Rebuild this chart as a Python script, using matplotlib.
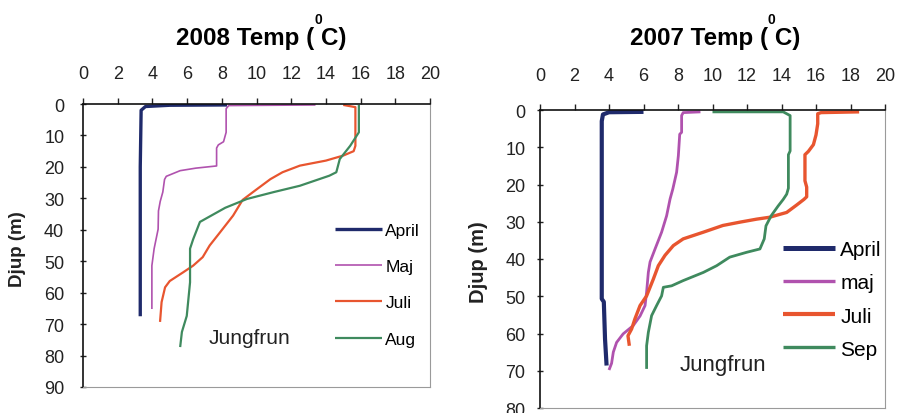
import numpy as np
import matplotlib.pyplot as plt

plt.rcParams['font.family'] = ['Liberation Sans', 'DejaVu Sans']

W, H = 898, 414

# 2008 profiles (temperature degC, depth m)
apr08_t = [8.3, 5.0, 3.6, 3.35, 3.3, 3.3]
apr08_d = [0.3, 0.4, 0.8, 2.0, 20, 67.5]
maj08_t = [13.4, 8.4, 8.25, 8.25, 8.1, 7.8, 7.7, 7.7, 6.5, 5.6, 4.8, 4.7,
           4.6, 4.45, 4.35, 4.33, 4.1, 3.97, 3.97]
maj08_d = [0.3, 0.5, 1.5, 9, 12, 13, 14, 19.7, 20.4, 21.2, 23, 24, 28, 31,
           34, 39.8, 46, 51.4, 65.2]
juli08_t = [15.0, 15.7, 15.7, 15.6, 15.0, 14.0, 12.5, 11.5, 10.8, 9.8, 9.2,
            8.65, 7.9, 7.3, 6.9, 6.35, 5.78, 5.0, 4.73, 4.53, 4.44]
juli08_d = [0.3, 1.0, 13.3, 15, 16.4, 18, 19.6, 21.7, 23.9, 28, 30.5, 35.5,
            40.8, 45, 48.7, 51.4, 53.5, 56.3, 58.3, 63, 69.3]
aug08_t = [15.9, 15.9, 15.4, 14.8, 14.6, 14.2, 12.5, 11.0, 9.45, 8.2, 6.74,
           6.35, 6.17, 6.17, 5.98, 5.7, 5.6]
aug08_d = [0.3, 9, 13.3, 17.5, 21.7, 22.8, 26, 28, 30.2, 33, 37.5, 43, 46,
           56.7, 67.4, 72.5, 77.3]

# 2007 profiles
apr07_t = [6.0, 4.0, 3.65, 3.58, 3.58, 3.7, 3.77, 3.86]
apr07_d = [0.5, 0.6, 1.2, 3, 50.7, 51.5, 61.5, 68.6]
maj07_t = [9.3, 8.3, 8.21, 8.21, 8.1, 8.02, 7.92, 7.7, 7.54, 7.34, 7.05,
           6.67, 6.38, 6.28, 6.18, 6.09, 5.8, 5.4, 4.82, 4.44, 4.25, 4.15,
           4.0]
maj07_d = [0.5, 0.7, 1.5, 6, 6.5, 12.3, 16.7, 21.2, 23.9, 28.4, 32.8, 37.3,
           40.8, 43.6, 48.9, 52.5, 55.3, 57.9, 60.1, 62.4, 65, 68, 69.8]
juli07_t = [18.5, 16.3, 16.1, 16.1, 16.0, 15.85, 15.56, 15.36, 15.36, 15.46,
            15.46, 15.3, 14.88, 14.3, 13.3, 12.56, 11.6, 10.6, 9.47, 8.3,
            7.73, 7.25, 6.86, 6.57, 6.18, 5.8, 5.5, 5.31, 5.1, 5.18]
juli07_d = [0.5, 0.7, 1.0, 3.7, 6.7, 9.3, 11.1, 12, 19, 20.7, 23.3, 24, 25.5,
            27.5, 28.8, 29.3, 30.1, 31, 32.8, 34.6, 36.4, 39, 41.8, 45.4,
            49.9, 52.5, 56.1, 58.8, 60.6, 63.3]
sep07_t = [10.0, 14.1, 14.5, 14.5, 14.4, 14.4, 14.3, 14.1, 13.8, 13.4, 13.1,
           13.0, 12.75, 11.98, 11.0, 10.24, 9.47, 8.3, 7.63, 7.15, 7.05, 6.76,
           6.47, 6.28, 6.18, 6.18]
sep07_d = [0.5, 0.5, 1.5, 11, 12, 21, 22.6, 24, 25.8, 28.4, 31.1, 34.6, 37.3,
           38.2, 39.5, 41.8, 43.6, 45.8, 47.2, 47.6, 49.9, 52.5, 55.2, 59.7,
           63.3, 69.5]

labels08 = ['April', 'Maj', 'Juli', 'Aug']
labels07 = ['April', 'maj', 'Juli', 'Sep']
colors = ['#1f2a6b', '#b052ae', '#e8552f', '#3f8a5e']


def fx(px):
    return px / W


def fy(py):
    return 1 - py / H


def panel(rect, series, labels, widths, ymax, fs, xpad, ypad, leg):
    ax = fig.add_axes(rect)
    for (t, d), lab, c, lw in zip(series, labels, colors, widths):
        ax.plot(t, d, color=c, lw=lw, label=lab, solid_capstyle='butt')
    ax.set_xlim(0, 20)
    ax.set_ylim(ymax, 0)
    ax.set_xticks(np.arange(0, 21, 2))
    ax.set_yticks(np.arange(0, ymax + 1, 10))
    ax.xaxis.tick_top()
    ax.tick_params(axis='x', direction='out', length=4, width=1,
                   labelsize=fs, pad=xpad, colors='#222222')
    ax.tick_params(axis='y', direction='inout', length=5, width=1,
                   labelsize=fs, pad=ypad, colors='#222222')
    for side in ['left', 'top']:
        ax.spines[side].set_color('#111111')
        ax.spines[side].set_linewidth(1.2)
    for side in ['right', 'bottom']:
        ax.spines[side].set_color('#9a9a9a')
        ax.spines[side].set_linewidth(0.8)
    lg = ax.legend(loc='upper left', bbox_to_anchor=leg['anchor'],
                   frameon=False, fontsize=leg['fs'], borderpad=0,
                   borderaxespad=0, handlelength=leg['hl'],
                   handletextpad=leg['pad'], labelspacing=leg['ls'])
    for h, lw in zip(lg.get_lines(), leg['lw']):
        h.set_linewidth(lw)
    return ax


fig = plt.figure(figsize=(W / 100, H / 100), dpi=100)

ax1 = panel([fx(83), fy(388), fx(430) - fx(83), fy(105) - fy(388)],
            [(apr08_t, apr08_d), (maj08_t, maj08_d), (juli08_t, juli08_d),
             (aug08_t, aug08_d)],
            labels08, [2.4, 1.2, 1.6, 1.6], 90, 13, 11.5, 11,
            {'anchor': (0.726, 0.581), 'fs': 12.5, 'hl': 2.7, 'pad': 0.2,
             'ls': 1.22, 'lw': [2.4, 1.2, 1.6, 1.6]})
ax1.text(9.6, 74.1, 'Jungfrun', fontsize=15, ha='center', va='center',
         color='#222222')

ax2 = panel([fx(540), fy(409), fx(885) - fx(540), fy(111) - fy(409)],
            [(apr07_t, apr07_d), (maj07_t, maj07_d), (juli07_t, juli07_d),
             (sep07_t, sep07_d)],
            labels07, [3.0, 2.0, 2.4, 2.0], 80, 13, 15, 8,
            {'anchor': (0.704, 0.563), 'fs': 15, 'hl': 2.5, 'pad': 0.25,
             'ls': 0.68, 'lw': [3.6, 2.4, 3.0, 2.4]})
ax2.text(10.6, 68.2, 'Jungfrun', fontsize=16, ha='center', va='center',
         color='#222222')

# titles with the raised degree zero
fig.text(fx(261), fy(38), '2008 Temp ( C)', fontsize=17.4, fontweight='bold',
         ha='center', va='center')
fig.text(fx(318), fy(20), '0', fontsize=10, fontweight='bold',
         ha='center', va='center')
fig.text(fx(715), fy(38), '2007 Temp ( C)', fontsize=17.4, fontweight='bold',
         ha='center', va='center')
fig.text(fx(771), fy(20), '0', fontsize=10, fontweight='bold',
         ha='center', va='center')

fig.text(fx(18), fy(249), 'Djup (m)', fontsize=13.5, fontweight='bold',
         rotation=90, ha='center', va='center', color='#222222')
fig.text(fx(478), fy(262), 'Djup (m)', fontsize=14.5, fontweight='bold',
         rotation=90, ha='center', va='center', color='#222222')

fig.savefig('out.png', dpi=100, facecolor='white')
